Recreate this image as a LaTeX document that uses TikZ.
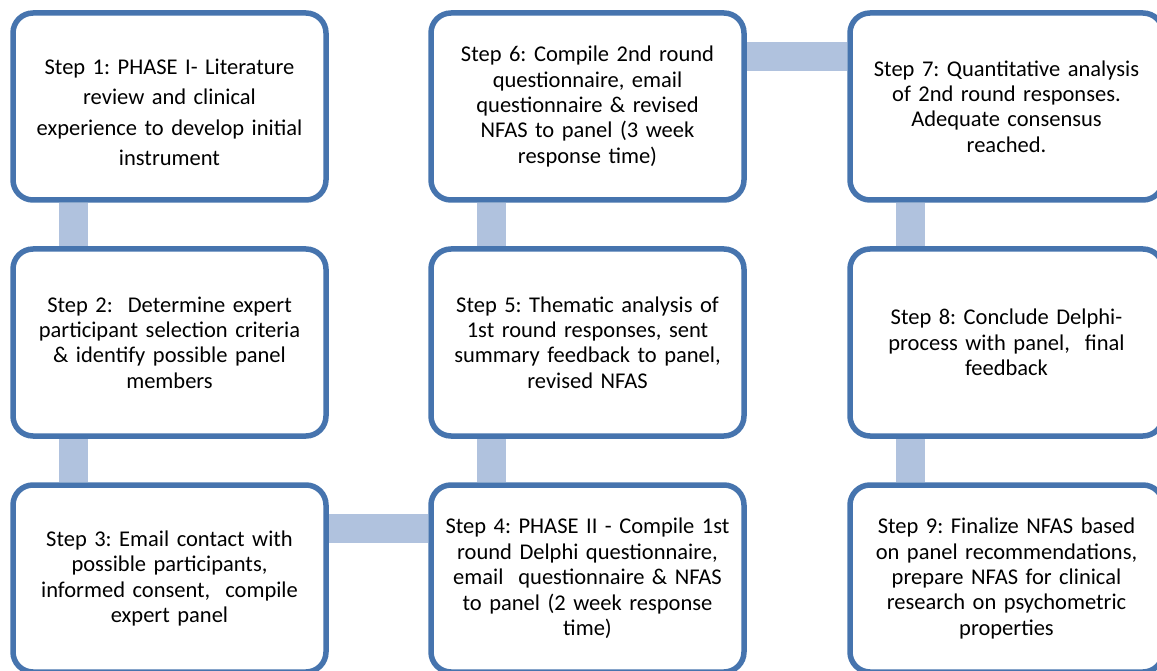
\documentclass[tikz,border=0pt]{standalone}
\usepackage{fontspec}
\setmainfont{Carlito}
\frenchspacing
\usetikzlibrary{backgrounds}
\definecolor{boxline}{HTML}{4674AE}
\definecolor{barfill}{HTML}{B0C2DE}
\tikzset{
  stepbox/.style={draw=boxline, line width=5.5pt, fill=white, rounded corners=20pt,
    minimum width=313pt, minimum height=187pt, text width=300pt, align=center,
    inner sep=0pt, font=\fontsize{22.5}{25.4}\selectfont},
  link/.style={draw=barfill, line width=29pt}
}

\begin{document}
\begin{tikzpicture}[x=1pt, y=-1pt]
     \useasboundingbox (0,0) rectangle (1157,671);

     \node[stepbox] (s1) at (169.5, 106.5) {\rule{0pt}{27pt}Step 1: PHASE I- Literature\\[5pt] review and clinical\\[5pt] experience to develop initial\\[5pt] instrument};
     \node[stepbox] (s2) at (169.5, 342.5) {Step 2:\ \ Determine expert\\ participant selection criteria\\ \& identify possible panel\\ members};
     \node[stepbox] (s3) at (169.5, 578.5) {Step 3: Email contact with\\ possible participants,\\ informed consent,\ \ compile\\ expert panel};

     \node[stepbox] (s4) at (587.5, 578.5) {Step 4: PHASE II - Compile 1st\\ round Delphi questionnaire,\\ email\ \ questionnaire \& NFAS\\ to panel (2 week response\\ time)};
     \node[stepbox] (s5) at (587.5, 342.5) {Step 5: Thematic analysis of\\ 1st round responses, sent\\ summary feedback to panel,\\ revised NFAS};
     \node[stepbox] (s6) at (587.5, 106.5) {Step 6: Compile 2nd round\\ questionnaire, email\\ questionnaire \& revised\\ NFAS to panel (3 week\\ response time)};

     \node[stepbox] (s7) at (1006.5, 106.5) {Step 7: Quantitative analysis\\ of 2nd round responses.\\ Adequate consensus\\ reached.};
     \node[stepbox] (s8) at (1006.5, 342.5) {Step 8: Conclude Delphi-\\ process with panel,\ \ final\\ feedback};
     \node[stepbox] (s9) at (1006.5, 578.5) {Step 9: Finalize NFAS based\\ on panel recommendations,\\ prepare NFAS for clinical\\ research on psychometric\\ properties};

     % bars between the steps
     \begin{scope}[on background layer]
       \draw[link] ([xshift=63.5pt]s1.south west) -- ([xshift=63.5pt]s2.north west);
       \draw[link] ([xshift=63.5pt]s2.south west) -- ([xshift=63.5pt]s3.north west);
       \draw[link] ([yshift=-46pt]s3.north east) -- ([yshift=-46pt]s4.north west);
       \draw[link] ([xshift=63.5pt]s4.north west) -- ([xshift=63.5pt]s5.south west);
       \draw[link] ([xshift=63.5pt]s5.north west) -- ([xshift=63.5pt]s6.south west);
       \draw[link] ([yshift=-46pt]s6.north east) -- ([yshift=-46pt]s7.north west);
       \draw[link] ([xshift=63.5pt]s7.south west) -- ([xshift=63.5pt]s8.north west);
       \draw[link] ([xshift=63.5pt]s8.south west) -- ([xshift=63.5pt]s9.north west);
     \end{scope}
\end{tikzpicture}
\end{document}
